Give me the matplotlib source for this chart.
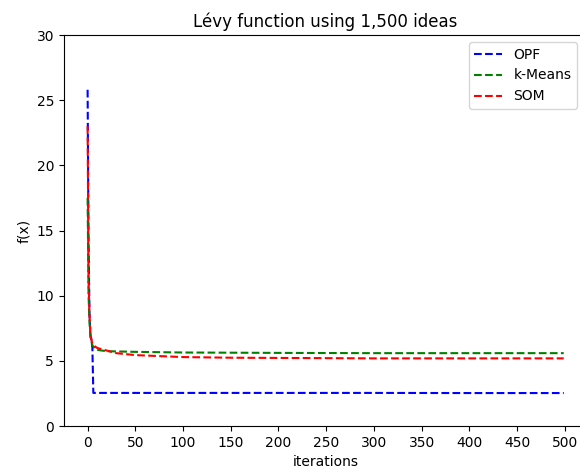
import matplotlib
matplotlib.use("Agg")
import matplotlib.pyplot as plt

# best fitness per iteration
opf_x = [0, 1, 2, 3, 4, 5, 6, 100, 200, 300, 400, 499]
opf_y = [25.8, 14.0, 8.5, 7.0, 6.6, 6.0, 2.55, 2.55, 2.55, 2.55, 2.54, 2.54]

kmeans_x = [0, 1, 2, 3, 5, 8, 10, 20, 50, 100, 200, 300, 499]
kmeans_y = [17.5, 10.0, 8.0, 6.8, 6.2, 5.9, 5.85, 5.75, 5.7, 5.65, 5.62, 5.6, 5.6]

som_x = [0, 1, 2, 3, 5, 8, 10, 20, 30, 50, 100, 150, 300, 499]
som_y = [23.0, 11.0, 8.5, 7.0, 6.3, 6.1, 6.0, 5.8, 5.6, 5.45, 5.3, 5.25, 5.2, 5.2]

fig = plt.figure(figsize=(5.8, 4.73), dpi=100)
# the axes run a little past the right edge, as in the reference
ax = fig.add_axes([0.110, 0.099, 0.903, 0.827])

ax.plot(opf_x, opf_y, 'b--', label='OPF')
ax.plot(kmeans_x, kmeans_y, 'g--', label='k-Means')
ax.plot(som_x, som_y, 'r--', label='SOM')

ax.set_ylim(0, 30)
ax.set_xticks(range(0, 501, 50))
ax.set_title('Lévy function using 1,500 ideas')
ax.set_xlabel('iterations')
ax.set_ylabel('f(x)')
ax.legend(loc='upper right', bbox_to_anchor=(0.993, 1.0))

fig.savefig('out.png')
